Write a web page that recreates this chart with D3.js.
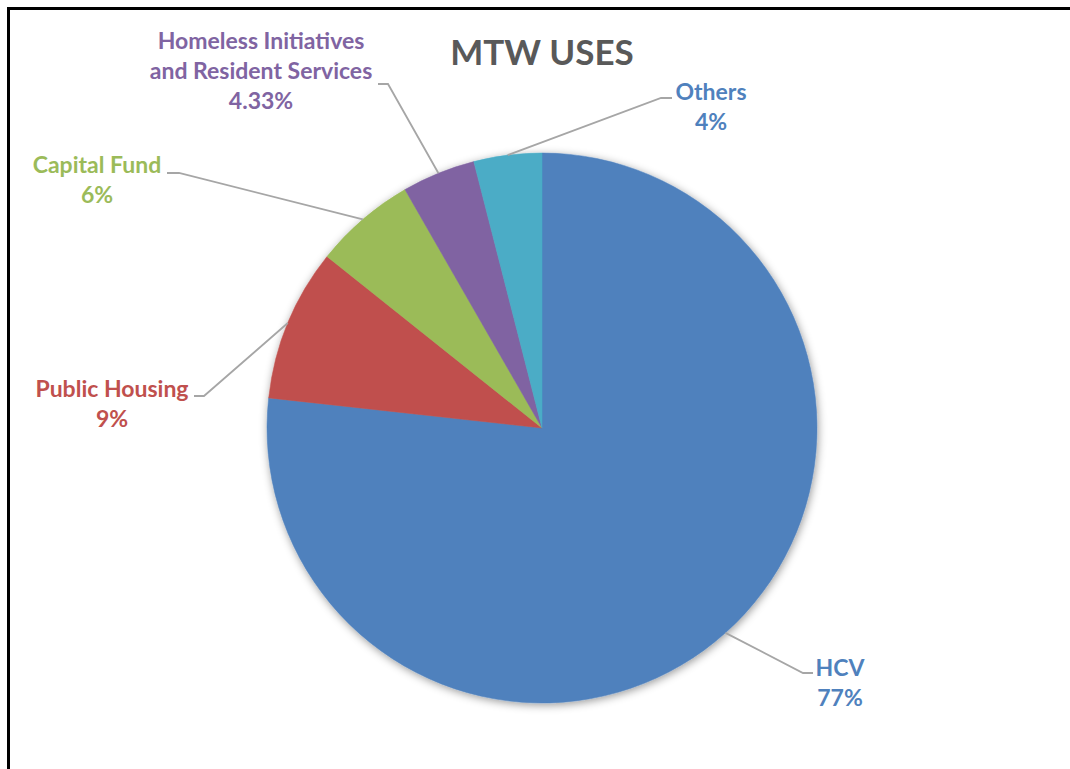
<!DOCTYPE html>
<html>
<head>
<meta charset="utf-8">
<script src="https://cdn.jsdelivr.net/npm/d3@7"></script>
<style>
  html, body { margin: 0; padding: 0; background: #fff; overflow: hidden; }
  svg { display: block; }
  text { font-family: Lato, "Open Sans", sans-serif; font-weight: bold; }
</style>
</head>
<body>
<svg id="chart" width="1070" height="769"></svg>
<script>
// MTW uses by category (percent of total), clockwise from 12 o'clock
const categories = ["HCV", "Public Housing", "Capital Fund", "Homeless Initiatives and Resident Services", "Others"];
const values = [77, 9, 6, 4.33, 4];
const valueLabels = ["77%", "9%", "6%", "4.33%", "4%"];
const labelLines = [["HCV"], ["Public Housing"], ["Capital Fund"], ["Homeless Initiatives", "and Resident Services"], ["Others"]];

const sliceColors = ["#4F81BD", "#C0504D", "#9BBB59", "#8064A2", "#4BACC6"];
const textColors  = ["#4F81BD", "#C0504D", "#9BBB59", "#8064A2", "#4F81BD"];

// Label placement: text anchor point (centre of first line) and the elbow end of the leader line
const labelLayout = [
  { x: 840, y: 676, lineEnd: [813, 673], elbow: [803, 673] },
  { x: 112, y: 397, lineEnd: [194, 396], elbow: [204, 396] },
  { x: 97,  y: 173, lineEnd: [167, 173], elbow: [179, 173] },
  { x: 261, y: 49,  lineEnd: [378, 84],  elbow: [388, 84] },
  { x: 711, y: 100, lineEnd: [672, 98],  elbow: [661, 98] }
];

const svg = d3.select("#chart");
const cx = 542, cy = 428, radius = 275;
const lineGap = 30;

// Outer frame (runs off the right and bottom edges)
svg.append("rect")
  .attr("x", 8.5).attr("y", 8.5)
  .attr("width", 1200).attr("height", 900)
  .attr("fill", "#fff")
  .attr("stroke", "#000")
  .attr("stroke-width", 3);

// Soft shadow behind the pie
const defs = svg.append("defs");
const shadow = defs.append("filter")
  .attr("id", "pieShadow")
  .attr("x", "-10%").attr("y", "-10%")
  .attr("width", "120%").attr("height", "120%");
shadow.append("feDropShadow")
  .attr("dx", 1).attr("dy", 2)
  .attr("stdDeviation", 4.5)
  .attr("flood-color", "#000")
  .attr("flood-opacity", 0.4);

// Title
svg.append("text")
  .attr("x", cx)
  .attr("y", 65)
  .attr("text-anchor", "middle")
  .attr("font-size", 35)
  .attr("fill", "#595959")
  .text("MTW USES");

const data = categories.map((c, i) => ({ category: c, value: values[i], i }));

const pie = d3.pie()
  .sort(null)
  .value(d => d.value)
  .startAngle(0)
  .endAngle(2 * Math.PI);

const arcs = pie(data);

const arc = d3.arc().innerRadius(0).outerRadius(radius);

const g = svg.append("g").attr("transform", `translate(${cx},${cy})`);

g.append("g")
  .attr("filter", "url(#pieShadow)")
  .selectAll("path")
  .data(arcs)
  .join("path")
  .attr("d", arc)
  .attr("fill", d => sliceColors[d.data.i])
  .attr("stroke", d => sliceColors[d.data.i])
  .attr("stroke-width", 0.5);

// Leader lines: from the slice's outer edge at mid-angle to the label
const edgePoint = d => {
  const a = (d.startAngle + d.endAngle) / 2;
  return [cx + radius * Math.sin(a), cy - radius * Math.cos(a)];
};

svg.append("g")
  .selectAll("polyline")
  .data(arcs)
  .join("polyline")
  .attr("points", d => {
    const L = labelLayout[d.data.i];
    const p = edgePoint(d);
    return [p, L.elbow, L.lineEnd].map(q => q.join(",")).join(" ");
  })
  .attr("fill", "none")
  .attr("stroke", "#A6A6A6")
  .attr("stroke-width", 1.8);

// Data labels: category name lines, then percentage
const labels = svg.append("g")
  .selectAll("text")
  .data(arcs)
  .join("text")
  .attr("text-anchor", "middle")
  .attr("font-size", 23)
  .attr("fill", d => textColors[d.data.i]);

labels.each(function(d) {
  const L = labelLayout[d.data.i];
  const lines = labelLines[d.data.i].concat([valueLabels[d.data.i]]);
  const t = d3.select(this);
  lines.forEach((s, k) => {
    t.append("tspan")
      .attr("x", L.x)
      .attr("y", L.y + k * lineGap)
      .text(s);
  });
});
</script>
</body>
</html>
